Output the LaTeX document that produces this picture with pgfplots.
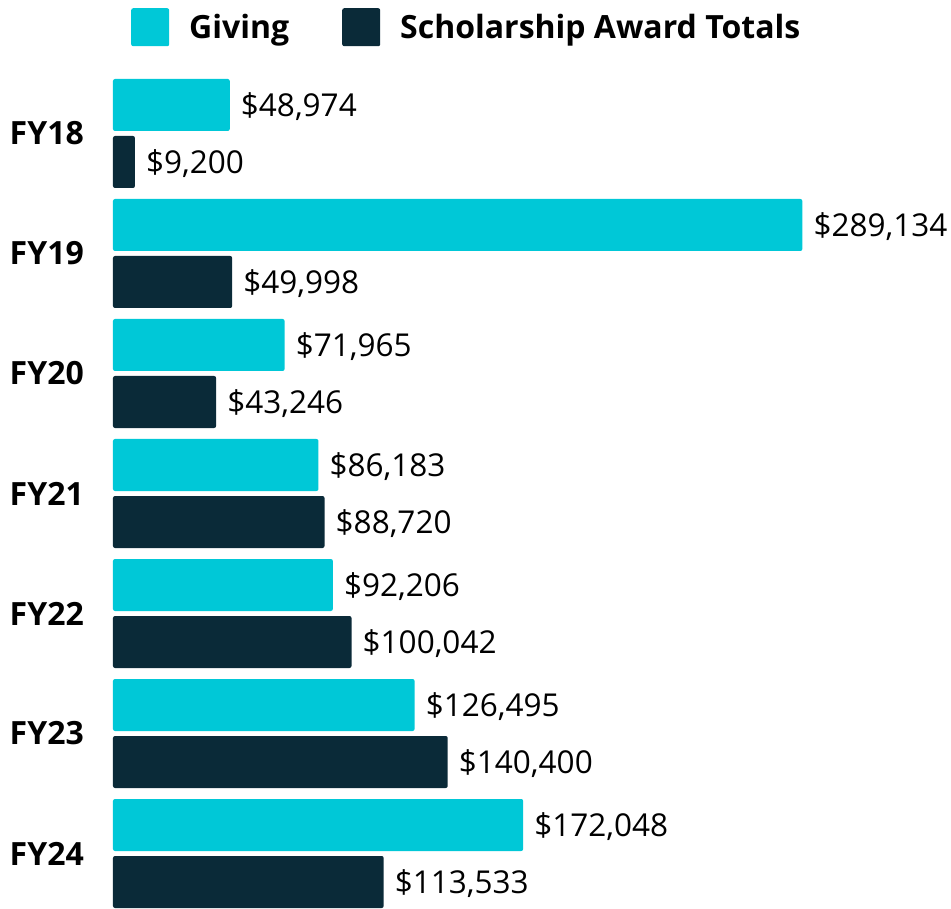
\documentclass[border=0pt]{standalone}
\usepackage{fontspec}
\setmainfont{Open Sans}
\usepackage{pgfplots}
\pgfplotsset{compat=1.18}
\definecolor{giv}{RGB}{0,200,215}
\definecolor{sch}{RGB}{10,42,56}
\begin{document}
\begin{tikzpicture}
\useasboundingbox (-113pt,-1.5pt) rectangle (838pt,907.5pt);
\begin{axis}[
  at={(0pt,0pt)}, anchor=south west,
  scale only axis, width=838pt, height=834pt,
  xbar, bar width=52pt,
  xmin=0, xmax=351500,
  ymin=-0.5, ymax=6.45, y dir=reverse,
  axis line style={draw=none},
  xtick=\empty,
  ytick={0,1,2,3,4,5,6},
  yticklabels={FY18,FY19,FY20,FY21,FY22,FY23,FY24},
  major tick length=0pt,
  tick style={draw=none},
  yticklabel style={font=\bfseries\fontsize{32}{38}\selectfont, inner sep=0pt, xshift=-29pt},
  clip=false,
  point meta=explicit symbolic,
  nodes near coords,
  every node near coord/.append style={font=\fontsize{31.5}{38}\selectfont, anchor=west, inner sep=0pt, xshift=11pt, yshift=-1.5pt, text=black},
  legend style={draw=none, fill=none, inner sep=0pt, at={(axis description cs:0.0215,1.0785)}, anchor=north west,
    font=\bfseries\fontsize{32}{38}\selectfont, legend columns=2,
    nodes={inner sep=0pt},
    /tikz/every odd column/.append style={column sep=20pt},
    /tikz/every even column/.append style={column sep=53pt}},
  legend image code/.code={\fill[#1] (0pt,-19pt) rectangle (38pt,19pt);},
]
\addplot[fill=giv, draw=none, bar shift=28.5pt, rounded corners=2pt] coordinates {
  (48974,0) [\textdollar48{,}974]
  (289134,1) [\textdollar289{,}134]
  (71965,2) [\textdollar71{,}965]
  (86183,3) [\textdollar86{,}183]
  (92206,4) [\textdollar92{,}206]
  (126495,5) [\textdollar126{,}495]
  (172048,6) [\textdollar172{,}048]};
\addlegendentry{Giving}
\addplot[fill=sch, draw=none, bar shift=-28.5pt, rounded corners=2pt] coordinates {
  (9200,0) [\textdollar9{,}200]
  (49998,1) [\textdollar49{,}998]
  (43246,2) [\textdollar43{,}246]
  (88720,3) [\textdollar88{,}720]
  (100042,4) [\textdollar100{,}042]
  (140400,5) [\textdollar140{,}400]
  (113533,6) [\textdollar113{,}533]};
\addlegendentry{Scholarship Award Totals}
\end{axis}
\end{tikzpicture}
\end{document}
